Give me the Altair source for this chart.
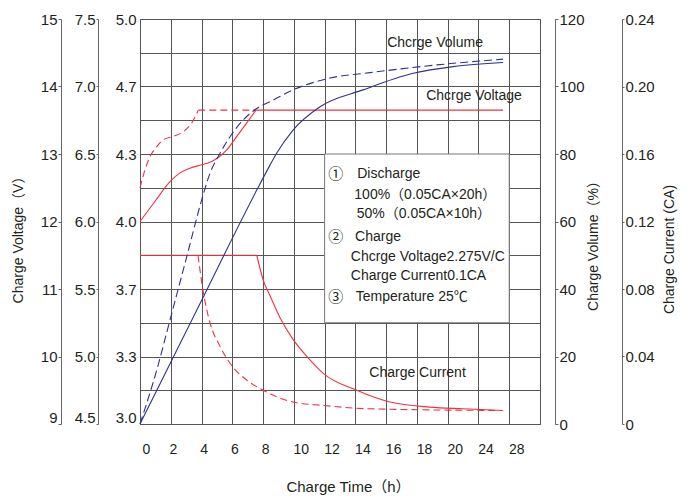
import altair as alt
import pandas as pd

FONT = "Liberation Sans, Arial, Noto Sans CJK SC, sans-serif"
RED = "#ef3340"
BLUE = "#2e3192"
GRID = "#555555"
AXC = "#666666"
TXT = "#231f20"

# ---------------- axes ----------------
# x positions sit on the chart's grid (one column = 2 h; the last two labelled
# columns are printed as 24 and 28 in the original)
time_ticks = [0, 2, 4, 6, 8, 10, 12, 14, 16, 18, 20, 22, 24]
time_labels = ["0", "2", "4", "6", "8", "10", "12", "14", "16", "18", "20", "24", "28"]

volt_a_labels = ["3.0", "3.3", "3.7", "4.0", "4.3", "4.7", "5.0"]   # per cell (V)
volt_b_labels = ["4.5", "5.0", "5.5", "6.0", "6.5", "7.0", "7.5"]   # 6 V battery
volt_c_labels = ["9", "10", "11", "12", "13", "14", "15"]            # 12 V battery
volume_labels = ["0", "20", "40", "60", "80", "100", "120"]
current_labels = ["0", "0.04", "0.08", "0.12", "0.16", "0.20", "0.24"]

# ---------------- series ----------------
# charge voltage (12 V battery), 100 % discharged
v100_x = [0, 0.98, 1.95, 2.6, 3.25, 4.01, 4.66, 5.15, 5.64, 6.29, 6.94, 7.54]
v100_y = [12.0, 12.30, 12.59, 12.72, 12.79, 12.84, 12.89, 12.96, 13.06, 13.26, 13.46, 13.65]
v100_flat_x = [7.54, 23.6]
v100_flat_y = [13.65, 13.65]
# charge voltage, 50 % discharged
v50_x = [0, 0.33, 0.65, 1.09, 1.51, 2.16, 2.81, 3.36, 3.79]
v50_y = [12.5, 12.77, 12.96, 13.11, 13.21, 13.26, 13.33, 13.46, 13.65]
v50_flat_x = [3.79, 7.54]
v50_flat_y = [13.65, 13.65]
# charge current (CA)
i100_flat_x = [0, 7.59]
i100_flat_y = [0.100, 0.100]
i100_x = [7.59, 8.02, 8.45, 9.10, 9.96, 11.05, 11.91, 14.09, 16.25, 18.85, 21.0, 23.6]
i100_y = [0.100, 0.085, 0.076, 0.063, 0.050, 0.038, 0.030, 0.020, 0.013, 0.010, 0.009, 0.008]
i50_x = [3.77, 4.1, 4.55, 5.2, 5.85, 6.94, 8.01, 9.96, 11.91, 14.95, 23.6]
i50_y = [0.100, 0.079, 0.060, 0.046, 0.036, 0.026, 0.020, 0.013, 0.011, 0.009, 0.008]
# charge volume (%)
q100_x = [0, 4.01, 7.59, 8.45, 8.89, 9.95, 11.7, 14.5, 17.76, 20.36, 23.6]
q100_y = [0, 36.7, 69.3, 76.7, 80.3, 87.1, 94.0, 99.0, 103.9, 105.9, 107.1]
q50_x = [0, 1.09, 1.95, 3.04, 4.01, 4.55, 5.2, 5.85, 6.71, 7.59, 8.45, 9.95, 12.35, 14.95, 19.3, 23.6]
q50_y = [0, 16.0, 30.8, 49.6, 66.4, 74.3, 80.2, 85.1, 90.1, 93.5, 95.5, 99.0, 102.5, 104.1, 106.4, 108.1]

# ---------------- annotations (x in h-grid, y in % units) ----------------
ann_text = ["Chcrge Volume", "Chcrge Voltage", "Charge Current"]
ann_x = [19.18, 21.71, 18.04]
ann_y = [112.9, 97.2, 15.0]

box_x = [12]
box_x2 = [24]
box_y = [30]
box_y2 = [80]

num_text = ["①", "②", "③"]
num_x = [12.72, 12.72, 12.72]
num_y = [74.1, 55.3, 37.7]

note_text = ["Discharge", "100%（0.05CA×20h）", "50%（0.05CA×10h）", "Charge",
             "Chcrge Voltage2.275V/C", "Charge Current0.1CA", "Temperature 25℃"]
note_x = [14.12, 13.93, 14.09, 13.98, 13.70, 13.70, 14.02]
note_y = [74.1, 67.9, 62.1, 55.3, 49.4, 43.9, 37.7]

# ---------------- helpers ----------------
x_label_expr = "[" + ",".join(f"'{l}'" for l in time_labels) + "][round(datum.value/2)]"
X_SCALE = alt.Scale(domain=[0, 26], nice=False, zero=False)
X_AXIS = alt.Axis(
    values=time_ticks, labelExpr=x_label_expr, grid=True, gridColor=GRID, gridWidth=1,
    domain=False, ticks=False, labelFont=FONT, labelFontSize=14, labelColor=TXT,
    labelPadding=18, labelOffset={"condition": {"test": "datum.value >= 10", "value": 7}, "value": 2},
    title="Charge Time（h）", titleFont=FONT, titleFontSize=15, titleFontWeight="normal",
    titleColor=TXT, titlePadding=23, titleX=208)


def xenc(field="x"):
    return alt.X(f"{field}:Q", scale=X_SCALE, axis=X_AXIS)


def yscale(lo, hi):
    return alt.Scale(domain=[lo, hi], nice=False, zero=False)


def label_expr(labels, lo, hi):
    arr = "[" + ",".join(f"'{l}'" for l in labels) + "]"
    return f"{arr}[round((datum.value - ({lo})) / ({hi} - ({lo})) * 6)]"


def axis_layer(lo, hi, labels, orient, offset, tick_size, pad, domain=True,
               flush_bottom=False, title=None, title_pad=0, title_y=None, title_angle=None):
    vals = [lo + (hi - lo) * k / 6 for k in range(7)]
    kw = dict(orient=orient, offset=offset, values=vals, labelExpr=label_expr(labels, lo, hi),
              grid=False, domain=domain, domainColor=AXC, domainWidth=1,
              ticks=tick_size > 0, tickColor=AXC, tickSize=max(tick_size, 1), tickWidth=1,
              labelFont=FONT, labelFontSize=15, labelColor=TXT, labelPadding=pad)
    if flush_bottom:
        kw["labelOffset"] = {"condition": {"test": f"datum.value <= {lo + 1e-9}", "value": -7}, "value": 0}
    if title:
        kw.update(title=title, titleFont=FONT, titleFontSize=14, titleFontWeight="normal",
                  titleColor=TXT, titlePadding=title_pad)
        if title_y is not None:
            kw["titleY"] = title_y
        if title_angle is not None:
            kw["titleAngle"] = title_angle
    else:
        kw["title"] = None
    d = pd.DataFrame({"v": [lo, hi]})
    return alt.Chart(d).mark_point(opacity=0).encode(
        y=alt.Y("v:Q", scale=yscale(lo, hi), axis=alt.Axis(**kw)))


def line_layer(xs, ys, lo, hi, color, dash=None):
    d = pd.DataFrame({"x": xs, "y": ys})
    kw = dict(color=color, strokeWidth=1.1, interpolate="monotone")
    if dash:
        kw["strokeDash"] = dash
    return alt.Chart(d).mark_line(**kw).encode(
        x=xenc(), y=alt.Y("y:Q", scale=yscale(lo, hi), axis=None))


# grid (horizontal lines every 10 %)
grid_df = pd.DataFrame({"v": [0, 120]})
grid_layer = alt.Chart(grid_df).mark_point(opacity=0).encode(
    x=xenc("v"),
    y=alt.Y("v:Q", scale=yscale(0, 120),
            axis=alt.Axis(values=list(range(0, 121, 10)), grid=True, gridColor=GRID, gridWidth=1,
                          labels=False, ticks=False, domain=False, title=None, orient="left")))

ax_a = axis_layer(3.0, 5.0, volt_a_labels, "left", 0, 0, 4, domain=False, flush_bottom=True)
ax_b = axis_layer(4.5, 7.5, volt_b_labels, "left", 42, 2, 1, flush_bottom=True)
ax_c = axis_layer(9, 15, volt_c_labels, "left", 79, 3, 1, flush_bottom=True,
                  title="Charge Voltage（V）", title_pad=15, title_y=217)
ax_d = axis_layer(0, 120, volume_labels, "right", 15, 3, 1,
                  title="Charge Volume（%）", title_pad=16, title_y=223, title_angle=270)
ax_e = axis_layer(0, 0.24, current_labels, "right", 82, 2, 1,
                  title="Charge Current (CA)", title_pad=22, title_y=230, title_angle=270)

box = alt.Chart(pd.DataFrame({"x": box_x, "x2": box_x2, "y": box_y, "y2": box_y2})).mark_rect(
    fill="white", stroke="#777777", strokeWidth=1).encode(
    x=xenc(), x2="x2:Q", y=alt.Y("y:Q", scale=yscale(0, 120), axis=None), y2="y2:Q")

lines = [
    line_layer(v100_x, v100_y, 9, 15, RED),
    line_layer(v100_flat_x, v100_flat_y, 9, 15, RED),
    line_layer(v50_x, v50_y, 9, 15, RED, [7, 4]),
    line_layer(v50_flat_x, v50_flat_y, 9, 15, RED, [7, 4]),
    line_layer(i100_flat_x, i100_flat_y, 0, 0.24, RED),
    line_layer(i100_x, i100_y, 0, 0.24, RED),
    line_layer(i50_x, i50_y, 0, 0.24, RED, [7, 4]),
    line_layer(q100_x, q100_y, 0, 120, BLUE),
    line_layer(q50_x, q50_y, 0, 120, BLUE, [8, 4]),
]

ann = alt.Chart(pd.DataFrame({"x": ann_x, "y": ann_y, "t": ann_text})).mark_text(
    font=FONT, fontSize=14, color=TXT, align="center", baseline="middle").encode(
    x=xenc(), y=alt.Y("y:Q", scale=yscale(0, 120), axis=None), text="t:N")

nums = alt.Chart(pd.DataFrame({"x": num_x, "y": num_y, "t": num_text})).mark_text(
    font=FONT, fontSize=15, color=TXT, align="center", baseline="middle").encode(
    x=xenc(), y=alt.Y("y:Q", scale=yscale(0, 120), axis=None), text="t:N")

notes = alt.Chart(pd.DataFrame({"x": note_x, "y": note_y, "t": note_text})).mark_text(
    font=FONT, fontSize=14, color=TXT, align="left", baseline="middle").encode(
    x=xenc(), y=alt.Y("y:Q", scale=yscale(0, 120), axis=None), text="t:N")

chart = alt.layer(
    grid_layer, ax_a, ax_b, ax_c, ax_d, ax_e, box, *lines, ann, nums, notes
).resolve_scale(y="independent").properties(
    width=400, height=405,
    autosize=alt.AutoSizeParams(type="none"),
    padding={"left": 132, "top": 11, "right": 145, "bottom": 72},
    background="white",
).configure_view(stroke=GRID, strokeWidth=1)

chart.save("out.html", embed_options={"renderer": "svg", "actions": False})
